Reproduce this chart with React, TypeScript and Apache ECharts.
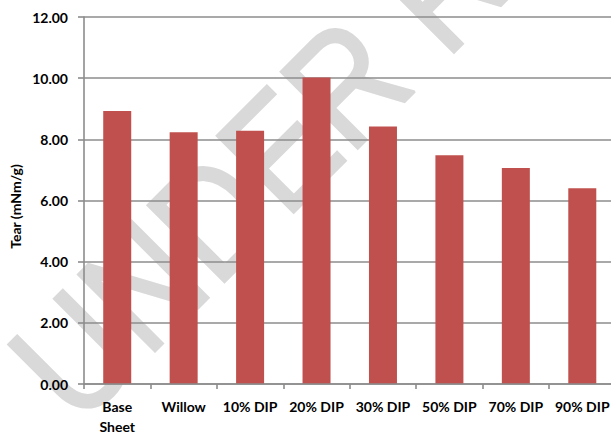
import React, { useEffect, useRef } from "react";
import * as echarts from "echarts";

// Tear strength by furnish
const categories = ["Base\nSheet", "Willow", "10% DIP", "20% DIP", "30% DIP", "50% DIP", "70% DIP", "90% DIP"];
const tearValues = [8.93, 8.23, 8.28, 10.02, 8.42, 7.48, 7.06, 6.4];
const yTicks = { min: 0, max: 12, interval: 2 };
const yAxisTitle = "Tear (mNm/g)";
const watermarkText = "UNDER REVIEW";

const FONT = "Lato, 'Open Sans', sans-serif";
const GRID_GRAY = "#8c8c8c";
const WATERMARK_GRAY = "#d9d9d9";

export default function App() {
  const ref = useRef<HTMLDivElement>(null);

  useEffect(() => {
    if (!ref.current) return;
    const chart = echarts.init(ref.current, null, { renderer: "svg" });
    chart.setOption({
      animation: false,
      backgroundColor: "#ffffff",
      grid: { left: 84, right: 4.5, top: 17, bottom: 51, containLabel: false },
      graphic: [
        {
          // diagonal watermark behind the plot, condensed along its baseline
          type: "text",
          z: -10,
          x: 39,
          y: 390,
          rotation: Math.PI / 4,
          scaleX: 0.86,
          silent: true,
          style: {
            text: watermarkText,
            fontFamily: "'Liberation Sans', Arial, sans-serif",
            fontSize: 158,
            fill: WATERMARK_GRAY,
            stroke: WATERMARK_GRAY,
            lineWidth: 2.5,
            align: "left",
            verticalAlign: "middle",
          },
        },
        {
          type: "text",
          x: 15,
          y: 206.5,
          rotation: Math.PI / 2,
          style: {
            text: yAxisTitle,
            fontFamily: FONT,
            fontWeight: "bold",
            fontSize: 14,
            fill: "#000",
            align: "center",
            verticalAlign: "middle",
          },
        },
      ],
      xAxis: {
        type: "category",
        data: categories,
        boundaryGap: true,
        axisLine: { show: true, lineStyle: { color: GRID_GRAY, width: 1.6 } },
        axisTick: { show: true, length: 5, alignWithLabel: false, lineStyle: { color: GRID_GRAY, width: 1.6 } },
        axisLabel: {
          interval: 0,
          margin: 12,
          color: "#000",
          fontFamily: FONT,
          fontWeight: "bold",
          fontSize: 14,
          lineHeight: 20,
        },
        z: 3,
      },
      yAxis: {
        type: "value",
        min: yTicks.min,
        max: yTicks.max,
        interval: yTicks.interval,
        axisLine: { show: true, lineStyle: { color: GRID_GRAY, width: 1.6 } },
        axisTick: { show: true, length: 6, lineStyle: { color: GRID_GRAY, width: 1.6 } },
        splitLine: { show: true, lineStyle: { color: GRID_GRAY, width: 1.6 } },
        axisLabel: {
          margin: 16,
          color: "#000",
          fontFamily: FONT,
          fontWeight: "bold",
          fontSize: 14,
          formatter: (v: number) => v.toFixed(2),
        },
      },
      series: [
        {
          type: "bar",
          data: tearValues,
          barWidth: 28,
          z: 2,
          itemStyle: { color: "#c0504d" },
        },
      ],
    });
    return () => chart.dispose();
  }, []);

  return (
    <div
      style={{
        position: "fixed",
        left: 0,
        top: 0,
        width: 611,
        height: 436,
        overflow: "hidden",
        background: "#fff",
      }}
    >
      <div ref={ref} style={{ width: 620, height: 436 }} />
    </div>
  );
}
